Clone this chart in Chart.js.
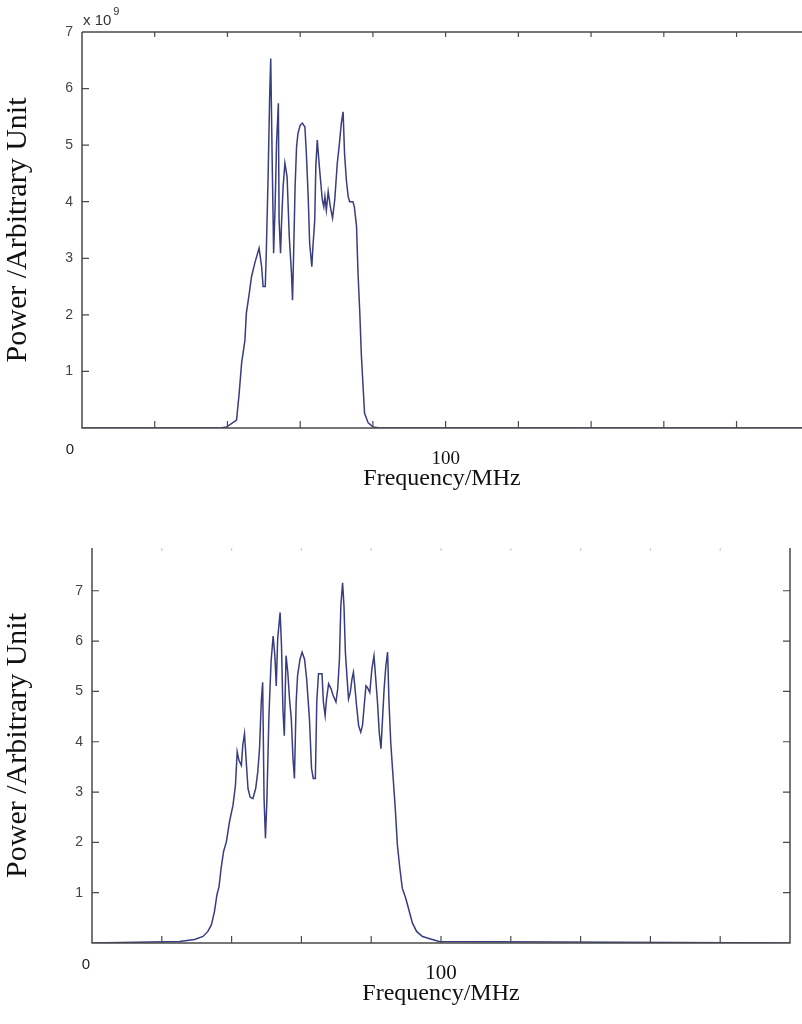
<!DOCTYPE html>
<html>
<head>
<meta charset="utf-8">
<script src="https://cdn.jsdelivr.net/npm/chart.js@4.4.1/dist/chart.umd.min.js"></script>
<style>
  body { margin: 0; background: #fff; overflow: hidden; }
  #wrap { position: relative; width: 802px; height: 1024px; overflow: hidden; }
  canvas { position: absolute; left: 0; }
  #top { top: 0; }
  #bottom { top: 500px; }
</style>
</head>
<body>
<div id="wrap">
  <canvas id="top" width="802" height="500"></canvas>
  <canvas id="bottom" width="808" height="524"></canvas>
</div>
<script>
// upper spectrum (power in units of 1e9)
const freqTop = [0, 38, 39.8, 42.5, 43.2, 43.9, 44.8, 45.2, 46, 46.6, 47.5, 48.7, 49.4, 49.8, 50.4, 50.7,
  51.2, 51.6, 51.9, 52.3, 52.7, 53.1, 53.5, 54, 54.2, 54.6, 54.9, 55.3, 55.8, 56.4, 57, 57.6, 57.9,
  58.2, 58.6, 59, 59.4, 60, 60.6, 61.3, 61.7, 62.2, 62.6, 63.2, 63.5, 64, 64.3, 64.7, 65.2, 65.6,
  66.1, 66.5, 66.8, 67.2, 67.7, 68.3, 68.9, 69.5, 70.2, 70.7, 71.3, 71.8, 72.2, 72.7, 73.2, 73.6,
  74.5, 74.9, 75.5, 75.9, 76.4, 76.8, 77.3, 77.7, 78.7, 80, 82, 198];
const powerTop = [0, 0, 0.02, 0.14, 0.6, 1.15, 1.55, 2.03, 2.38, 2.67, 2.91, 3.18, 2.85, 2.5, 2.5, 3.15,
  4.5, 5.85, 6.53, 4.73, 3.09, 3.91, 5.03, 5.74, 3.67, 3.09, 3.67, 4.26, 4.68, 4.44, 3.38, 2.74, 2.26,
  3.09, 4.26, 4.97, 5.21, 5.35, 5.39, 5.32, 4.85, 4.09, 3.27, 2.85, 3.2, 3.67, 4.62, 5.09, 4.68, 4.38,
  4.03, 3.91, 4.09, 3.85, 4.18, 3.91, 3.71, 4.03, 4.68, 4.97, 5.38, 5.59, 4.85, 4.38, 4.09, 4.0,
  4.0, 3.91, 3.56, 2.74, 2.03, 1.32, 0.73, 0.26, 0.09, 0.02, 0, 0];

// lower spectrum
const freqBottom = [0, 25.1, 29.4, 31.8, 33.2, 34.2, 35.1, 35.8, 36.4, 37, 37.7, 38.5, 39.4, 40.4, 41.1,
  41.6, 42.1, 42.8, 43.2, 43.7, 44.2, 44.7, 45.3, 46.1, 46.9, 47.5, 48, 48.5, 48.9, 49.3, 49.7, 50.1,
  50.7, 51.3, 51.9, 52.4, 52.8, 53.2, 53.9, 54.3, 54.7, 55.1, 55.6, 56.1, 56.6, 57.1, 57.6, 58, 58.5,
  58.9, 59.6, 60.2, 60.9, 61.5, 62.3, 62.9, 63.4, 64, 64.4, 64.9, 65.9, 66.3, 66.8, 67.2, 67.8, 68.5,
  69.1, 69.9, 70.4, 70.9, 71.3, 71.8, 72.2, 72.6, 73.1, 73.5, 74, 74.5, 74.9, 75.3, 75.8, 76.4, 77,
  77.5, 78, 78.5, 78.9, 79.6, 80.2, 80.8, 81.3, 81.8, 82.3, 82.8, 83.2, 83.7, 84.2, 84.7, 85.1, 85.6,
  86.1, 86.9, 87.5, 88.2, 88.9, 89.9, 90.9, 91.8, 93, 94.7, 97.5, 99.5, 200];
const powerBottom = [0, 0.03, 0.07, 0.13, 0.23, 0.36, 0.63, 0.96, 1.12, 1.49, 1.82, 2.01, 2.41, 2.74, 3.13,
  3.8, 3.63, 3.53, 3.93, 4.16, 3.6, 3.07, 2.9, 2.87, 3.07, 3.4, 3.86, 4.79, 5.18, 2.87, 2.08, 2.81,
  4.52, 5.58, 6.1, 5.71, 5.11, 6.04, 6.57, 5.91, 4.65, 4.12, 5.71, 5.38, 4.85, 4.46, 3.66, 3.27, 4.79,
  5.31, 5.64, 5.78, 5.64, 5.25, 4.46, 3.47, 3.27, 3.27, 4.79, 5.35, 5.35, 4.79, 4.52, 4.85, 5.15, 5.05,
  4.92, 4.79, 5.05, 5.64, 6.7, 7.16, 6.7, 5.78, 5.25, 4.85, 4.98, 5.25, 5.38, 5.11, 4.72, 4.32, 4.19,
  4.32, 4.72, 5.11, 5.08, 4.98, 5.45, 5.71, 5.25, 4.79, 4.19, 3.86, 4.39, 5.05, 5.51, 5.78, 4.79, 3.99,
  3.47, 2.67, 1.95, 1.49, 1.09, 0.89, 0.63, 0.4, 0.23, 0.13, 0.07, 0.03, 0];

const xLabelValues = [100];
const xTitle = "Frequency/MHz";
const yTitle = "Power /Arbitrary Unit";

const lineColor = "#383d80";
const axisColor = "#4a4a4a";

// MATLAB-like frame with inward tick marks, plus the loose "0" and exponent text
const frame = {
  id: "frame",
  afterDatasetsDraw(chart, args, opts) {
    const { ctx, chartArea: a } = chart;
    const xs = chart.scales.x, ys = chart.scales.y;
    const t = 7;
    ctx.save();
    ctx.strokeStyle = axisColor;
    ctx.lineWidth = 1.5;
    ctx.beginPath();
    ctx.moveTo(a.left, a.top); ctx.lineTo(a.left, a.bottom); ctx.lineTo(a.right, a.bottom);
    if (opts.rightLine) { ctx.lineTo(a.right, a.top); }
    if (opts.topLine) { ctx.moveTo(a.left, a.top); ctx.lineTo(a.right, a.top); }
    ctx.stroke();

    ctx.lineWidth = 1.2;
    ctx.beginPath();
    xs.ticks.forEach(tk => {
      const px = xs.getPixelForValue(tk.value);
      if (px <= a.left + 1 || px >= a.right - 1) return;
      ctx.moveTo(px, a.bottom); ctx.lineTo(px, a.bottom - t);
    });
    ys.ticks.forEach(tk => {
      const py = ys.getPixelForValue(tk.value);
      if (py >= a.bottom - 1 || py <= a.top + 1) return;
      ctx.moveTo(a.left, py); ctx.lineTo(a.left + t, py);
      if (opts.rightLine) { ctx.moveTo(a.right, py); ctx.lineTo(a.right - t, py); }
    });
    ctx.stroke();

    ctx.strokeStyle = opts.topTickColor;
    ctx.beginPath();
    xs.ticks.forEach(tk => {
      const px = xs.getPixelForValue(tk.value);
      if (px <= a.left + 1 || px >= a.right - 1) return;
      ctx.moveTo(px, a.top); ctx.lineTo(px, a.top + (opts.topLine ? 5 : 3));
    });
    ctx.stroke();

    ctx.fillStyle = "#222";
    ctx.font = "15px 'Liberation Sans', Arial, sans-serif";
    ctx.textAlign = "center";
    ctx.textBaseline = "middle";
    ctx.fillText("0", a.left - opts.zeroDx, a.bottom + 22);

    if (opts.exponent) {
      ctx.fillStyle = "#333";
      ctx.textAlign = "left";
      ctx.textBaseline = "alphabetic";
      ctx.font = "15px 'Liberation Sans', Arial, sans-serif";
      ctx.fillText("x 10", a.left + 1, a.top - 7);
      const w = ctx.measureText("x 10").width;
      ctx.font = "11px 'Liberation Sans', Arial, sans-serif";
      ctx.fillText("9", a.left + 3 + w, a.top - 17);
    }
    ctx.restore();
  }
};

function makeChart(id, freq, power, cfg) {
  return new Chart(document.getElementById(id), {
    type: "line",
    data: {
      datasets: [{
        data: freq.map((f, i) => ({ x: f, y: power[i] })),
        borderColor: lineColor,
        borderWidth: 1.5,
        pointRadius: 0,
        tension: 0,
        fill: false
      }]
    },
    options: {
      responsive: false,
      animation: false,
      layout: { padding: { top: cfg.top, right: cfg.right, left: 0, bottom: 0 } },
      plugins: {
        legend: { display: false },
        tooltip: { enabled: false },
        frame: cfg.frame
      },
      scales: {
        x: {
          type: "linear",
          min: 0,
          max: cfg.xMax,
          grid: { display: false, drawTicks: false },
          border: { display: false },
          ticks: {
            stepSize: 20,
            includeBounds: false,
            autoSkip: false,
            maxRotation: 0,
            padding: cfg.xPad,
            color: "#111",
            font: { family: "'Liberation Serif', 'Times New Roman', serif", size: cfg.xFont },
            callback: v => xLabelValues.includes(v) ? String(v) : ""
          },
          title: {
            display: true,
            text: xTitle,
            color: "#111",
            padding: { top: 0, bottom: cfg.titlePad },
            font: { family: "'Liberation Serif', 'Times New Roman', serif", size: 24 }
          },
          afterFit: s => { s.height = cfg.xHeight; }
        },
        y: {
          min: 0,
          max: cfg.yMax,
          grid: { display: false, drawTicks: false },
          border: { display: false },
          ticks: {
            stepSize: 1,
            includeBounds: false,
            padding: 9,
            color: "#444",
            font: { family: "'Liberation Sans', Arial, sans-serif", size: 14 },
            callback: v => v === 0 ? "" : String(v)
          },
          title: {
            display: true,
            text: yTitle,
            color: "#111",
            padding: { top: 0, bottom: 0 },
            font: { family: "'Liberation Serif', 'Times New Roman', serif", size: 30 }
          },
          afterFit: s => { s.width = cfg.yWidth; }
        }
      }
    },
    plugins: [frame]
  });
}

makeChart("top", freqTop, powerTop, {
  top: 32, right: 0, xMax: 198, yMax: 7, xPad: 20, xFont: 19, xHeight: 72, yWidth: 82, titlePad: 7,
  frame: { topLine: true, rightLine: false, topTickColor: axisColor, zeroDx: 12, exponent: true }
});

makeChart("bottom", freqBottom, powerBottom, {
  top: 48, right: 4, xMax: 200, yMax: 7.85, xPad: 18, xFont: 21, xHeight: 81, yWidth: 92, titlePad: 16,
  frame: { topLine: false, rightLine: true, topTickColor: "#cfcfcf", zeroDx: 6, exponent: false }
});
</script>
</body>
</html>
